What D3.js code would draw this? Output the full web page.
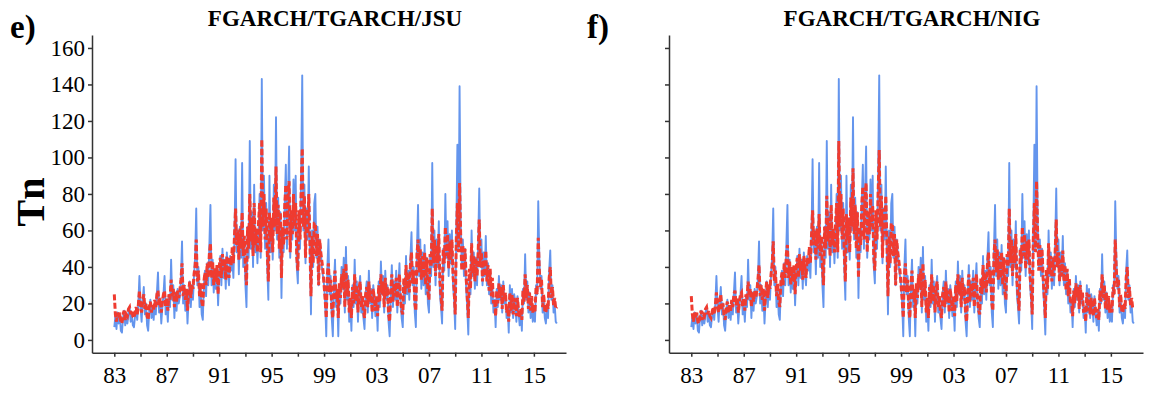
<!DOCTYPE html>
<html>
<head>
<meta charset="utf-8">
<script src="https://cdn.jsdelivr.net/npm/d3@7"></script>
<style>
  body { margin: 0; background: #fff; }
  text { font-family: 'Liberation Serif', 'Times New Roman', serif; }
</style>
</head>
<body>
<div id="chart"></div>
<script>
// monthly series, Jan 1983 .. Oct 2016
var startYear = 1983

var observed = [
  7, 13, 6, 15, 9, 14, 5, 4, 12, 16, 8, 13,
  9, 15, 18, 10, 14, 8, 7, 13, 17, 11, 20, 35,
  18, 10, 22, 29, 14, 20, 8, 5, 16, 22, 12, 18,
  11, 20, 14, 26, 37, 15, 22, 9, 18, 25, 35, 14,
  20, 10, 24, 18, 44, 22, 30, 12, 26, 16, 28, 20,
  24, 34, 54, 20, 30, 16, 26, 9, 22, 32, 18, 30,
  22, 36, 45, 72, 30, 40, 18, 28, 14, 11, 30, 38,
  24, 42, 30, 52, 74, 30, 44, 26, 38, 28, 40, 19,
  36, 46, 30, 50, 34, 44, 28, 48, 36, 30, 46, 38,
  44, 34, 56, 99, 48, 60, 36, 62, 45, 97, 40, 55,
  30, 18, 62, 45, 109, 50, 70, 40, 85, 48, 60, 42,
  58, 80, 45, 143, 60, 90, 50, 75, 40, 22, 90, 48,
  66, 44, 85, 60, 122, 55, 78, 45, 70, 23, 60, 48,
  75, 96, 50, 80, 106, 45, 70, 55, 88, 60, 90, 40,
  31, 70, 50, 90, 145, 60, 85, 42, 72, 55, 95, 50,
  14, 60, 40, 75, 80, 45, 62, 30, 55, 48, 40, 35,
  30, 20, 2, 40, 55, 25, 35, 12, 2, 30, 44, 18,
  25, 2, 30, 20, 40, 28, 45, 15, 51, 22, 35, 10,
  20, 5, 30, 18, 44, 20, 32, 10, 28, 35, 15, 22,
  12, 6, 25, 32, 15, 38, 20, 28, 12, 30, 22, 13,
  20, 5, 32, 18, 43, 25, 35, 15, 38, 22, 30, 10,
  2, 25, 41, 18, 32, 22, 38, 15, 30, 42, 20, 12,
  7, 32, 20, 46, 25, 38, 22, 45, 59, 30, 40, 15,
  7, 50, 74, 35, 55, 28, 48, 30, 52, 25, 45, 20,
  15, 45, 35, 97, 40, 60, 30, 55, 40, 65, 25, 18,
  9, 50, 38, 80, 45, 65, 35, 58, 42, 60, 30, 22,
  6, 60, 107, 50, 139, 65, 40, 55, 35, 50, 28, 18,
  3, 35, 25, 60, 35, 48, 28, 45, 30, 52, 83, 40,
  55, 30, 48, 35, 57, 30, 42, 25, 38, 20, 30, 15,
  22, 7, 28, 18, 35, 22, 30, 15, 32, 20, 25, 12,
  18, 4, 30, 15, 28, 12, 25, 20, 10, 24, 15, 8,
  15, 5, 28, 20, 47, 22, 32, 15, 26, 12, 22, 10,
  16, 10, 30, 25, 76, 45, 28, 35, 15, 22, 12, 9,
  18, 12, 38, 49, 22, 30, 15, 20, 10, 9
]

var fittedJSU = [
  25, 14, 10, 15, 12, 15, 10, 9, 14, 16, 11, 14,
  13, 17, 18, 14, 16, 13, 12, 15, 18, 14, 19, 27,
  19, 15, 21, 25, 17, 20, 13, 11, 18, 21, 15, 19,
  16, 22, 18, 25, 27, 19, 23, 15, 21, 25, 27, 18,
  23, 16, 25, 22, 33, 24, 28, 18, 26, 21, 27, 23,
  27, 33, 42, 24, 30, 22, 28, 16, 26, 32, 23, 30,
  28, 36, 41, 55, 32, 38, 24, 31, 21, 18, 32, 37,
  30, 42, 34, 47, 53, 34, 43, 30, 40, 32, 41, 25,
  40, 45, 34, 47, 38, 44, 33, 46, 40, 34, 45, 41,
  51, 42, 57, 72, 52, 60, 44, 61, 50, 70, 46, 57,
  40, 30, 62, 50, 80, 54, 67, 46, 75, 52, 61, 48,
  64, 75, 48, 110, 62, 80, 55, 72, 48, 32, 70, 54,
  67, 48, 78, 62, 95, 58, 74, 50, 70, 34, 62, 52,
  74, 85, 55, 78, 87, 48, 71, 58, 80, 62, 75, 45,
  38, 71, 55, 81, 105, 62, 79, 45, 72, 58, 80, 54,
  24, 57, 42, 64, 64, 46, 58, 30, 55, 48, 43, 38,
  30, 22, 12, 36, 42, 26, 33, 17, 12, 30, 38, 22,
  28, 12, 31, 23, 36, 28, 39, 18, 42, 24, 33, 15,
  23, 12, 29, 20, 36, 21, 30, 15, 28, 32, 18, 24,
  16, 12, 25, 29, 18, 32, 21, 27, 15, 28, 22, 16,
  24, 13, 30, 21, 36, 25, 32, 18, 34, 24, 29, 14,
  10, 27, 36, 21, 31, 24, 34, 18, 30, 36, 22, 16,
  14, 34, 25, 41, 28, 37, 26, 41, 48, 31, 38, 20,
  16, 47, 55, 37, 50, 33, 46, 34, 48, 30, 45, 26,
  22, 47, 40, 72, 42, 55, 35, 52, 42, 58, 32, 24,
  16, 50, 42, 62, 46, 58, 39, 54, 44, 55, 35, 28,
  14, 55, 75, 48, 86, 58, 38, 52, 38, 50, 34, 24,
  12, 39, 28, 53, 36, 46, 32, 45, 35, 48, 66, 40,
  48, 32, 44, 35, 49, 32, 41, 27, 39, 24, 34, 20,
  22, 13, 27, 20, 31, 23, 29, 17, 30, 22, 26, 15,
  18, 10, 26, 16, 25, 14, 23, 19, 13, 23, 16, 12,
  17, 11, 27, 21, 36, 23, 30, 17, 26, 16, 24, 15,
  19, 15, 29, 25, 56, 38, 29, 33, 18, 25, 16, 15,
  20, 17, 34, 40, 23, 29, 19, 23, 17, 18
]

var fittedNIG = [
  24, 14, 10, 15, 12, 15, 10, 9, 14, 16, 11, 14,
  13, 17, 18, 14, 16, 13, 12, 15, 18, 14, 19, 26,
  19, 15, 21, 25, 17, 20, 13, 11, 18, 21, 15, 19,
  16, 22, 18, 25, 27, 19, 23, 15, 21, 25, 26, 18,
  23, 16, 25, 22, 32, 24, 28, 18, 26, 21, 27, 23,
  27, 33, 41, 24, 30, 22, 28, 16, 26, 32, 23, 30,
  28, 36, 41, 54, 32, 38, 24, 31, 21, 18, 32, 37,
  30, 42, 34, 47, 52, 34, 43, 30, 40, 32, 41, 25,
  40, 45, 34, 47, 38, 44, 33, 46, 40, 34, 45, 41,
  51, 42, 57, 71, 52, 60, 44, 61, 50, 69, 46, 57,
  40, 30, 62, 50, 79, 54, 67, 46, 74, 52, 61, 48,
  64, 75, 48, 109, 62, 80, 55, 72, 48, 32, 69, 54,
  67, 48, 78, 62, 94, 58, 74, 50, 70, 34, 62, 52,
  74, 84, 55, 78, 86, 48, 71, 58, 80, 62, 74, 45,
  38, 71, 55, 81, 104, 62, 79, 45, 72, 58, 79, 54,
  24, 57, 42, 64, 63, 46, 58, 30, 55, 48, 43, 38,
  30, 22, 12, 36, 42, 26, 33, 17, 12, 30, 38, 22,
  28, 12, 31, 23, 36, 28, 39, 18, 42, 24, 33, 15,
  23, 12, 29, 20, 36, 21, 30, 15, 28, 32, 18, 24,
  16, 12, 25, 29, 18, 32, 21, 27, 15, 28, 22, 16,
  24, 13, 30, 21, 36, 25, 32, 18, 34, 24, 29, 14,
  10, 27, 36, 21, 31, 24, 34, 18, 30, 36, 22, 16,
  14, 34, 25, 41, 28, 37, 26, 41, 48, 31, 38, 20,
  16, 47, 55, 37, 50, 33, 46, 34, 48, 30, 45, 26,
  22, 47, 40, 72, 42, 55, 35, 52, 42, 58, 32, 24,
  16, 50, 42, 62, 46, 58, 39, 54, 44, 55, 35, 28,
  14, 55, 75, 48, 87, 58, 38, 52, 38, 50, 34, 24,
  12, 39, 28, 53, 36, 46, 32, 45, 35, 48, 66, 40,
  48, 32, 44, 35, 49, 32, 41, 27, 39, 24, 34, 20,
  22, 13, 27, 20, 31, 23, 29, 17, 30, 22, 26, 15,
  18, 10, 26, 16, 25, 14, 23, 19, 13, 23, 16, 12,
  17, 11, 27, 21, 36, 23, 30, 17, 26, 16, 24, 15,
  19, 15, 29, 25, 55, 38, 29, 33, 18, 25, 16, 15,
  20, 17, 34, 40, 23, 29, 19, 23, 17, 17
]

var yTicks = [0, 20, 40, 60, 80, 100, 120, 140, 160]
var xTicks = [1983, 1985, 1987, 1989, 1991, 1993, 1995, 1997, 1999, 2001, 2003, 2005, 2007, 2009, 2011, 2013, 2015]
var xLabelYears = [1983, 1987, 1991, 1995, 1999, 2003, 2007, 2011, 2015]

var width = 1153
var height = 394

var svg = d3
  .select('#chart')
  .append('svg')
  .attr('width', width)
  .attr('height', height)

function drawPanel(offsetX, tag, title, fitted, showYLabels) {
  var g = svg.append('g').attr('transform', 'translate(' + offsetX + ',0)')

  var x = d3.scaleLinear().domain([1981.3, 2017.45]).range([92, 566])
  var y = d3.scaleLinear().domain([-7, 167.1]).range([352.7, 35])

  var line = d3
    .line()
    .x((d, i) => x(startYear + i / 12))
    .y(d => y(d))

  g.append('path')
    .datum(observed)
    .attr('fill', 'none')
    .attr('stroke', '#6495ED')
    .attr('stroke-width', 1.9)
    .attr('stroke-linejoin', 'round')
    .attr('d', line)

  g.append('path')
    .datum(fitted)
    .attr('fill', 'none')
    .attr('stroke', '#EF3B30')
    .attr('stroke-width', 3)
    .attr('stroke-dasharray', '6,2.5')
    .attr('d', line)

  // axes
  g.append('g')
    .attr('transform', 'translate(92,0)')
    .call(
      d3
        .axisLeft(y)
        .tickValues(yTicks)
        .tickSize(4)
        .tickSizeOuter(0)
        .tickPadding(3)
        .tickFormat(d => (showYLabels ? d : ''))
    )

  g.append('g')
    .attr('transform', 'translate(0,352.7)')
    .call(
      d3
        .axisBottom(x)
        .tickValues(xTicks)
        .tickSize(4)
        .tickSizeOuter(0)
        .tickPadding(10)
        .tickFormat(d => (xLabelYears.includes(d) ? String(d).slice(2) : ''))
    )

  g.selectAll('.domain, .tick line')
    .attr('stroke', '#333')
    .attr('stroke-width', 1.5)

  g.selectAll('.tick text')
    .attr('fill', '#000')
    .style('font-family', "'Liberation Serif', serif")
    .style('font-size', '23px')

  g.append('text')
    .attr('x', 335)
    .attr('y', 26)
    .attr('text-anchor', 'middle')
    .style('font-weight', 'bold')
    .style('font-size', '23px')
    .text(title)

  g.append('text')
    .attr('x', 10)
    .attr('y', 38)
    .style('font-weight', 'bold')
    .style('font-size', '33px')
    .text(tag)
}

drawPanel(0, 'e)', 'FGARCH/TGARCH/JSU', fittedJSU, true)
drawPanel(577, 'f)', 'FGARCH/TGARCH/NIG', fittedNIG, false)

svg.append('text')
  .attr('transform', 'translate(44,202) rotate(-90)')
  .attr('text-anchor', 'middle')
  .style('font-weight', 'bold')
  .style('font-size', '40px')
  .text('Tn')
</script>
</body>
</html>
